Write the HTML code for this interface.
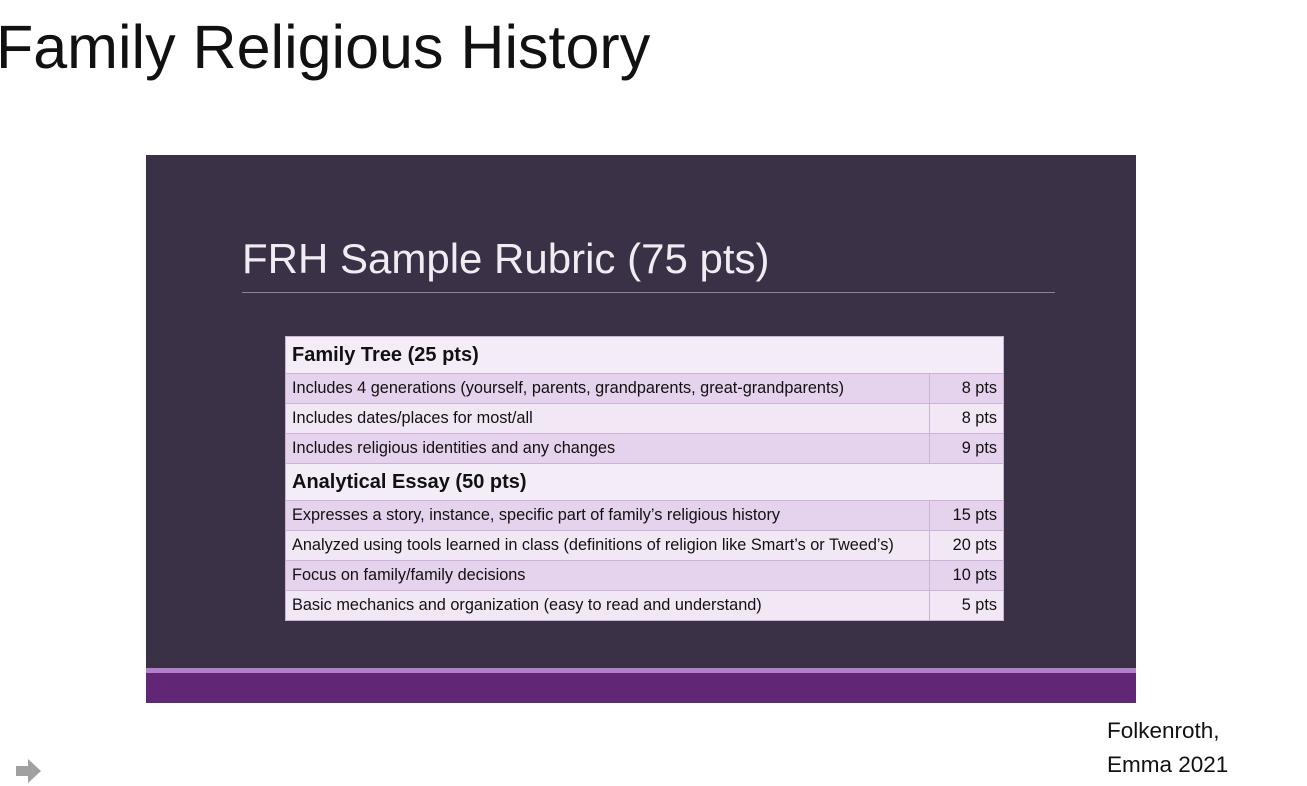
<!DOCTYPE html>
<html><head><meta charset="utf-8"><style>
body{margin:0;width:1307px;height:786px;background:#fff;position:relative;overflow:hidden;font-family:"Liberation Sans",sans-serif}
.abs{position:absolute}
#title{left:-4px;top:12px;font-size:61px;color:#111;white-space:nowrap}
#slide{left:146px;top:155px;width:990px;height:548px;background:#3a3147}
#stripe{left:0;top:513px;width:990px;height:5px;background:#b080c8}
#band{left:0;top:518px;width:990px;height:30px;background:#622676}
#stitle{left:96px;top:80px;font-size:42px;color:#f0ecf2;white-space:nowrap}
#rule{left:96px;top:137px;width:813px;height:1px;background:#8c8496}
table{position:absolute;left:139px;top:181px;width:719px;border-collapse:collapse;font-size:16.3px;color:#111;letter-spacing:0}
td{border:1px solid #cbb3d6;padding:0 6px;height:29px;white-space:nowrap}
tr.h td{background:#f4ecf7;font-weight:bold;font-size:20px;height:36px}
tr.o td{background:#e5d2ec}
tr.e td{background:#f2e8f5}
td.p{text-align:right;width:61px}
#foot{left:1107px;top:714px;font-size:22.5px;line-height:34px;color:#111}
#arrow{left:16px;top:758px}
</style></head><body>
<div id="title" class="abs">Family Religious History</div>
<div id="slide" class="abs">
<div id="stitle" class="abs">FRH Sample Rubric (75 pts)</div>
<div id="rule" class="abs"></div>
<table>
<tr class="h"><td colspan="2">Family Tree (25 pts)</td></tr>
<tr class="o"><td>Includes 4 generations (yourself, parents, grandparents, great-grandparents)</td><td class="p">8 pts</td></tr>
<tr class="e"><td>Includes dates/places for most/all</td><td class="p">8 pts</td></tr>
<tr class="o"><td>Includes religious identities and any changes</td><td class="p">9 pts</td></tr>
<tr class="h"><td colspan="2">Analytical Essay (50 pts)</td></tr>
<tr class="o"><td>Expresses a story, instance, specific part of family’s religious history</td><td class="p">15 pts</td></tr>
<tr class="e"><td>Analyzed using tools learned in class (definitions of religion like Smart’s or Tweed’s)</td><td class="p">20 pts</td></tr>
<tr class="o"><td>Focus on family/family decisions</td><td class="p">10 pts</td></tr>
<tr class="e"><td>Basic mechanics and organization (easy to read and understand)</td><td class="p">5 pts</td></tr>
</table>
<div id="stripe" class="abs"></div>
<div id="band" class="abs"></div>
</div>
<div id="foot" class="abs">Folkenroth,<br>Emma 2021</div>
<svg id="arrow" class="abs" width="28" height="26"><polygon points="0,8 12,8 12,1 25,13 12,25 12,18 0,18" fill="#a0a0a0"/></svg>
</body></html>
